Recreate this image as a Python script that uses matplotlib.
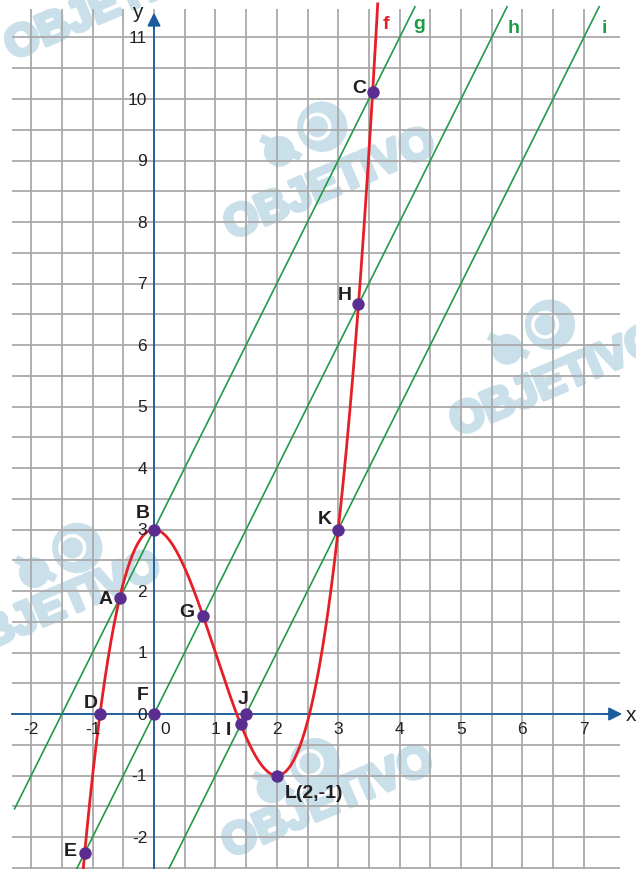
import numpy as np
import matplotlib
matplotlib.use('Agg')
import matplotlib.pyplot as plt
import matplotlib.patheffects as pe
from matplotlib.patches import Circle

plt.rcParams['font.family'] = ['Liberation Sans', 'DejaVu Sans']

# f(x) = x^3 - 3x^2 + 3
f_coef = [1, -3, 0, 3]
f_xrange = [-1.16, 3.645]

# parallel lines g, h, i : y = m x + b
line_names = ['g', 'h', 'i']
line_slope = [2, 2, 2]
line_icpt = [3, 0, -3]

# marked points
pt_names = ['A', 'B', 'C', 'D', 'E', 'F', 'G', 'H', 'I', 'J', 'K', 'L(2,-1)']
pt_x = [-0.56, 0.0, 3.56, -0.88, -1.13, 0.0, 0.80, 3.33, 1.41, 1.5, 3.0, 2.0]
pt_y = [1.88, 3.0, 10.12, 0.0, -2.26, 0.0, 1.60, 6.66, -0.17, 0.0, 3.0, -1.0]

x_ticks = [-2, -1, 0, 1, 2, 3, 4, 5, 6, 7]
y_ticks = [-2, -1, 0, 1, 2, 3, 4, 5, 6, 7, 8, 9, 10, 11]

red = '#e41f26'
green = '#1f9b45'
purple = '#5b2d90'
blue = '#1b5c9c'
gridc = '#a9a9a9'
wm = '#c9dfe9'

fig = plt.figure(figsize=(6.36, 8.70), dpi=100)
ax = fig.add_axes([0, 0, 1, 1])
x0, x1 = -2.508, 7.850
y0, y1 = -2.520, 11.626
ax.set_xlim(x0, x1)
ax.set_ylim(y0, y1)
ax.axis('off')

# watermark "OBJETIVO" (under the grid)
wm_text = [(2.87, 8.60), (6.55, 5.40), (-1.60, 1.72), (2.84, -1.45), (-0.70, 11.52)]
wm_logo = [((2.74, 9.55), (2.04, 9.15)), ((6.45, 6.33), (5.75, 5.93)),
           ((-1.25, 2.70), (-1.95, 2.30)), ((2.62, -0.80), (1.92, -1.20))]
for (tx, ty) in wm_text:
    ax.text(tx, ty, 'OBJETIVO', fontsize=32, fontweight='bold', color=wm,
            rotation=23, rotation_mode='anchor', ha='center', va='center', zorder=0.5,
            path_effects=[pe.withStroke(linewidth=3, foreground=wm)])
for (big, small) in wm_logo:
    ax.add_patch(Circle(big, 0.41, color=wm, zorder=0.5, lw=0))
    ax.add_patch(Circle((big[0] - 0.08, big[1]), 0.2, fill=False, ec='white', lw=2.5, zorder=0.6))
    ax.add_patch(Circle(small, 0.25, color=wm, zorder=0.5, lw=0))
    ax.plot([small[0] - 0.3, small[0] + 0.35], [small[1] + 0.22, small[1] - 0.1],
            color=wm, lw=6, zorder=0.5, solid_capstyle='butt')

# grid every 0.5
gx = np.arange(-2, 7.01, 0.5)
gy = np.arange(-2.5, 11.01, 0.5)
ax.vlines(gx, y0, 11.46, color=gridc, lw=1.3, zorder=1)
ax.hlines(gy, -2.31, 7.59, color=gridc, lw=1.3, zorder=1)

# axes with arrows
ax.plot([-2.31, 7.5], [0, 0], color=blue, lw=1.3, zorder=2)
ax.plot([0, 0], [y0, 11.3], color=blue, lw=1.3, zorder=2)
ax.annotate('', xy=(7.67, 0), xytext=(7.3, 0),
            arrowprops=dict(arrowstyle='-|>', color=blue, lw=1.3, mutation_scale=20), zorder=2)
ax.annotate('', xy=(0, 11.45), xytext=(0, 11.1),
            arrowprops=dict(arrowstyle='-|>', color=blue, lw=1.3, mutation_scale=20), zorder=2)
ax.text(7.77, 0, 'x', fontsize=15, ha='center', va='center', color='#222222')
ax.text(-0.27, 11.43, 'y', fontsize=15, ha='center', va='center', color='#222222')

# tick labels
for t in x_ticks:
    xp = 0.18 if t == 0 else t
    ax.text(xp, -0.24, str(t), fontsize=12.5, ha='center', va='center', color='#222222', zorder=6)
for t in y_ticks:
    ax.text(-0.11, t, str(t), fontsize=12.5, ha='right', va='center', color='#222222', zorder=6)

# lines g, h, i
y_top = 11.5
for name, m, b in zip(line_names, line_slope, line_icpt):
    xa = max(-2.27, (y0 - b) / m)
    xb = (y_top - b) / m
    xs = np.array([xa, xb])
    ax.plot(xs, m * xs + b, color=green, lw=1.2, zorder=3)

# curve f
xf = np.linspace(f_xrange[0], f_xrange[1], 400)
ax.plot(xf, np.polyval(f_coef, xf), color=red, lw=2.0, zorder=4, solid_capstyle='butt')

# line labels
ax.text(3.78, 11.22, 'f', color=red, fontsize=14, fontweight='bold', ha='center', va='center')
ax.text(4.32, 11.22, 'g', color=green, fontsize=14, fontweight='bold', ha='center', va='center')
ax.text(5.86, 11.17, 'h', color=green, fontsize=14, fontweight='bold', ha='center', va='center')
ax.text(7.33, 11.17, 'i', color=green, fontsize=14, fontweight='bold', ha='center', va='center')

# points
ax.scatter(pt_x, pt_y, s=80, color=purple, zorder=5, lw=0)
offs = [(-10, 0), (-8, 12), (-9.5, 3), (-6.5, 8.5), (-10, 1.5), (-8, 14),
        (-12, 3), (-10, 7), (-8.5, -3.5), (-2, 11.5), (-9.5, 8), (26.5, -12)]
for name, px, py, o in zip(pt_names, pt_x, pt_y, offs):
    ax.annotate(name, (px, py), xytext=o, textcoords='offset points', fontsize=14,
                fontweight='bold', color='#231f20', ha='center', va='center', zorder=6)

fig.savefig('out.png', dpi=100)
